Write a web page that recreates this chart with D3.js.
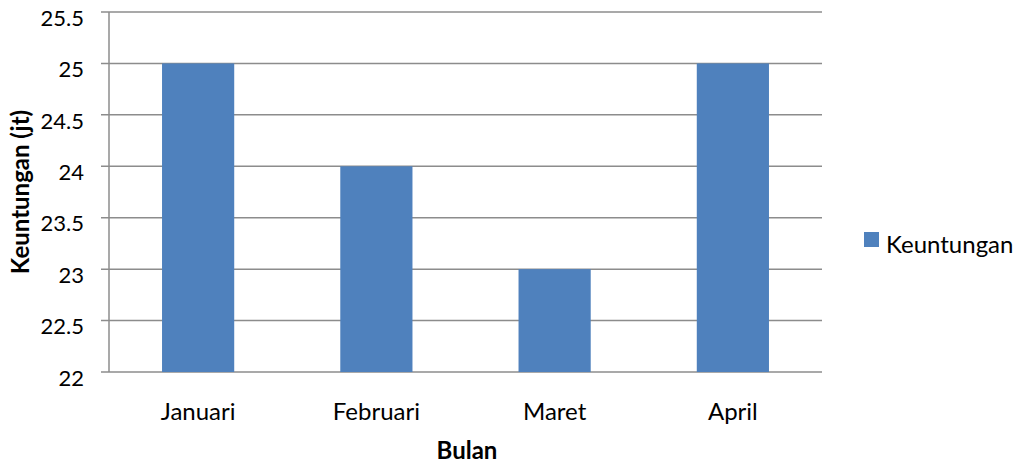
<!DOCTYPE html>
<html>
<head>
<meta charset="utf-8">
<script src="https://cdn.jsdelivr.net/npm/d3@7"></script>
<style>
  body { margin: 0; background: #fff; }
  text { font-family: "Lato", "Open Sans", sans-serif; fill: #000; }
</style>
</head>
<body>
<svg id="chart" width="1019" height="466"></svg>
<script>
var months = ["Januari", "Februari", "Maret", "April"];
var profits = [25, 24, 23, 25];
var yTicks = [22, 22.5, 23, 23.5, 24, 24.5, 25, 25.5];
var seriesName = "Keuntungan";
var barColor = "#4f81bd";
var gridColor = "#8c8c8c";
var numSize = "22px";
var labelSize = "24px";

var plotLeft = 109, plotRight = 822, plotTop = 12, plotBottom = 372;

var svg = d3.select("#chart");

var xScale = d3.scaleBand()
	.domain(months)
	.range([plotLeft, plotRight])
	.padding(0);

var yScale = d3.scaleLinear()
	.domain([22, 25.5])
	.range([plotBottom, plotTop]);

// grid lines + ticks on the left
svg.append("g")
	.selectAll("line")
	.data(yTicks)
	.enter().append("line")
		.attr("x1", plotLeft - 8)
		.attr("x2", plotRight)
		.attr("y1", function(d) { return yScale(d); })
		.attr("y2", function(d) { return yScale(d); })
		.attr("stroke", gridColor)
		.attr("stroke-width", 1.5);

// tick labels sit a bit below their gridline, like the original
svg.append("g")
	.selectAll("text")
	.data(yTicks)
	.enter().append("text")
		.attr("x", 84)
		.attr("y", function(d) { return yScale(d) + 6; })
		.attr("dy", "0.35em")
		.attr("text-anchor", "end")
		.style("font-size", numSize)
		.text(function(d) { return d; });

// bars
var barW = xScale.bandwidth() * 0.405;
svg.append("g")
	.selectAll("rect")
	.data(profits)
	.enter().append("rect")
		.attr("x", function(d, i) { return xScale(months[i]) + xScale.bandwidth() / 2 - barW / 2; })
		.attr("y", function(d) { return yScale(d); })
		.attr("width", barW)
		.attr("height", function(d) { return yScale(22) - yScale(d); })
		.attr("fill", barColor);

// axis line
svg.append("line")
	.attr("x1", plotLeft).attr("x2", plotLeft)
	.attr("y1", plotTop).attr("y2", plotBottom)
	.attr("stroke", gridColor).attr("stroke-width", 1.5);

// category labels
svg.append("g")
	.selectAll("text")
	.data(months)
	.enter().append("text")
		.attr("x", function(d) { return xScale(d) + xScale.bandwidth() / 2; })
		.attr("y", 420)
		.attr("text-anchor", "middle")
		.style("font-size", labelSize)
		.text(function(d) { return d; });

// axis titles
svg.append("text")
	.attr("x", 467)
	.attr("y", 459)
	.attr("text-anchor", "middle")
	.style("font-size", labelSize)
	.style("font-weight", "bold")
	.text("Bulan");

svg.append("text")
	.attr("transform", "translate(29, 192) rotate(-90)")
	.attr("text-anchor", "middle")
	.style("font-size", labelSize)
	.style("font-weight", "bold")
	.text("Keuntungan (jt)");

// legend
svg.append("rect")
	.attr("x", 864)
	.attr("y", 232)
	.attr("width", 15)
	.attr("height", 15)
	.attr("fill", barColor);

svg.append("text")
	.attr("x", 886)
	.attr("y", 253)
	.style("font-size", labelSize)
	.text(seriesName);
</script>
</body>
</html>
